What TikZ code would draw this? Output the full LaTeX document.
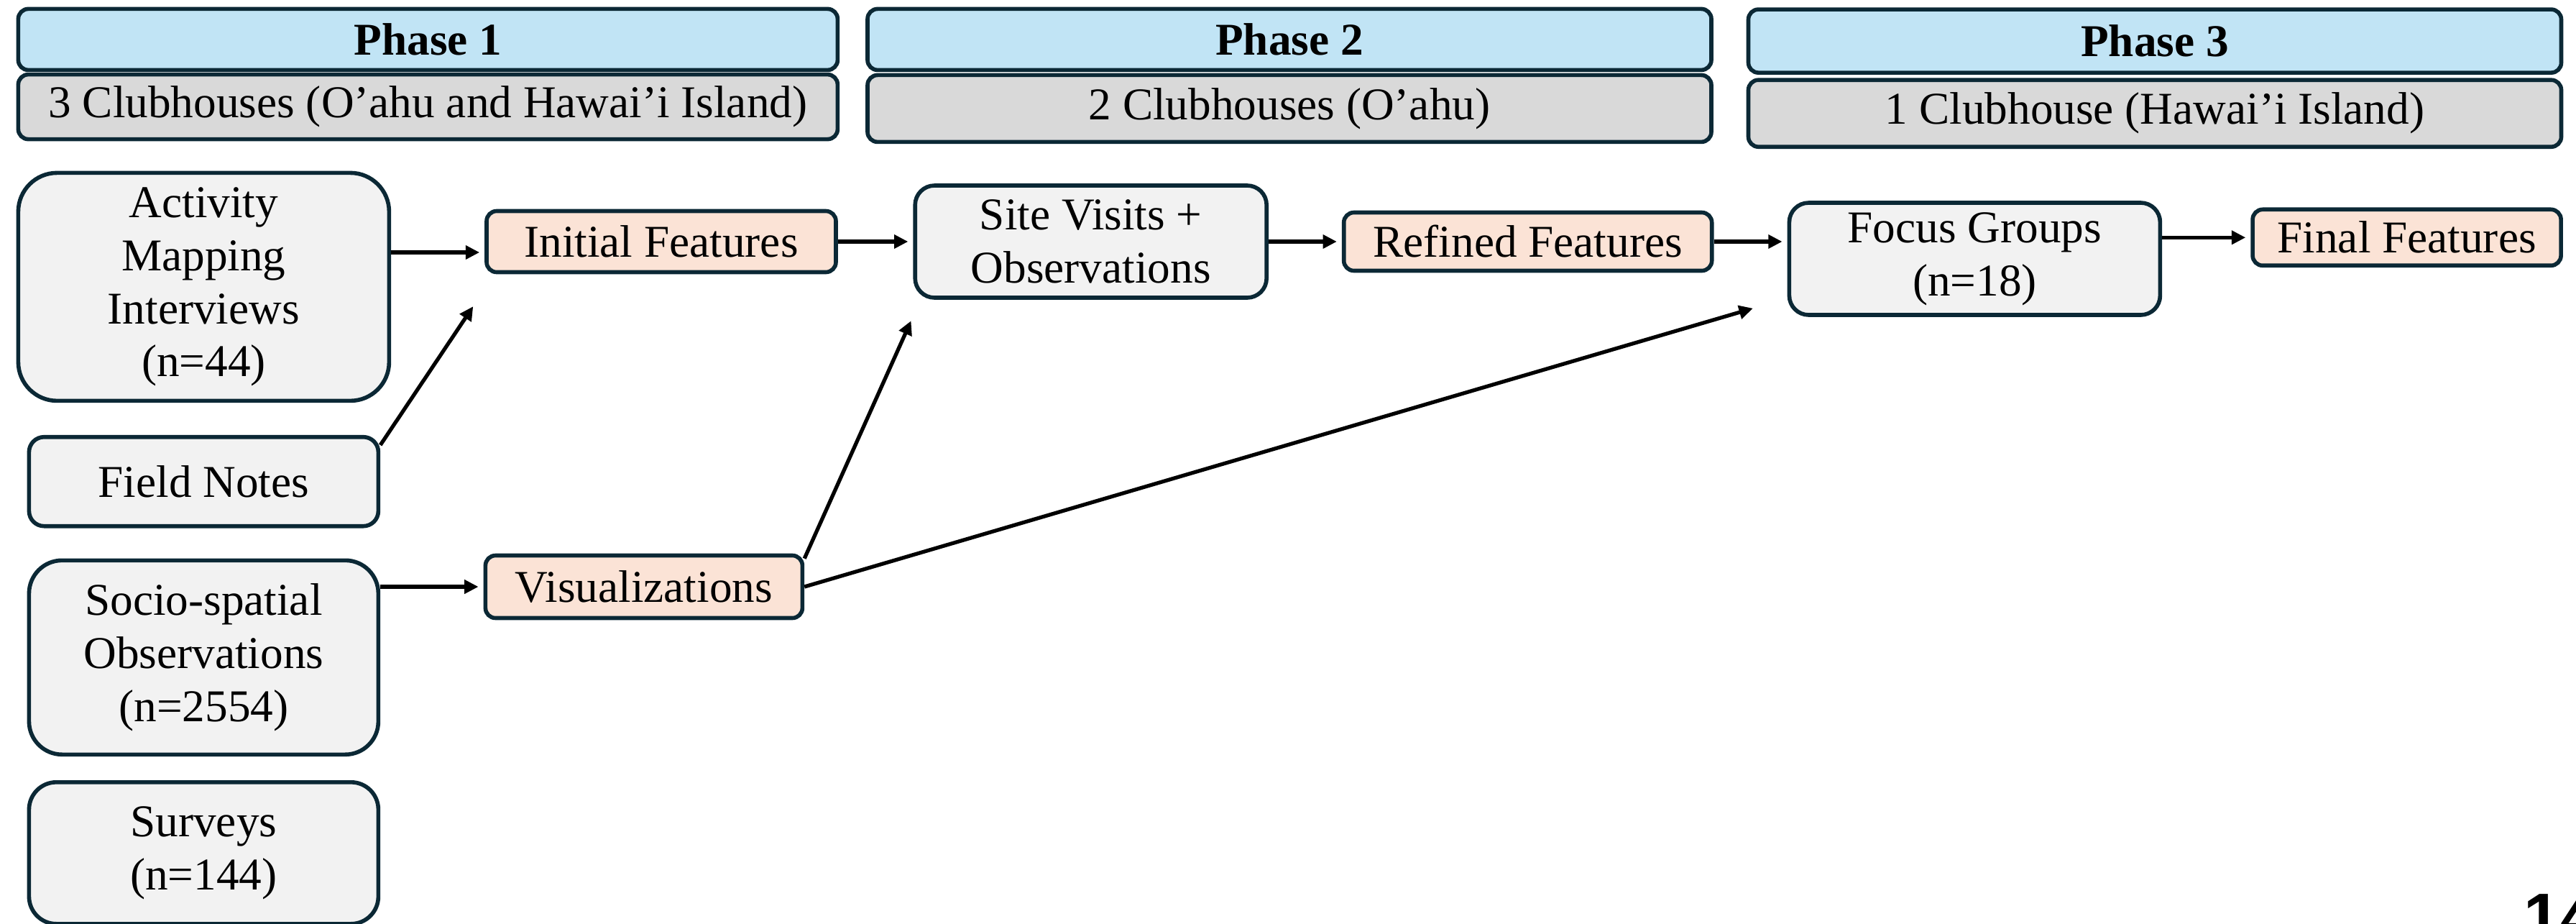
\documentclass[tikz,border=0pt]{standalone}
\usepackage{fontspec}
\setmainfont{Liberation Serif}
\newfontfamily\slidefont{Liberation Sans}
\usepackage{xcolor}
\usetikzlibrary{positioning,arrows.meta}

\definecolor{edgenavy}{HTML}{0B2835}
\definecolor{phaseblue}{HTML}{C1E4F5}
\definecolor{clubgray}{HTML}{D9D9D9}
\definecolor{srcgray}{HTML}{F2F2F2}
\definecolor{featpeach}{HTML}{FBE3D6}

\begin{document}
\begin{tikzpicture}[shorten >=2pt, node distance=3cm, on grid,
    box/.style={draw=edgenavy, line width=1.6pt, align=center, inner sep=0pt,
      font=\fontsize{18pt}{21pt}\selectfont},
    phase/.style={box, fill=phaseblue, rounded corners=1.4mm, minimum height=0.85cm,
      font=\fontsize{18pt}{21pt}\selectfont\bfseries},
    clubs/.style={box, fill=clubgray, rounded corners=1.4mm, minimum height=0.9cm},
    src/.style={box, fill=srcgray},
    feat/.style={box, fill=featpeach, rounded corners=1.4mm, minimum height=0.85cm},
    arr/.style={-{Triangle[length=5.5pt,width=5.3pt]}, line width=1.5pt}]

  \useasboundingbox (0,0) rectangle (35.84,-12.84);

  % phase headers
  \node[phase, minimum width=11.4cm] (ph1) at (5.954,-0.549) {Phase 1};
  \node[clubs, minimum width=11.4cm] (cl1) [below=0.937cm of ph1] {3 Clubhouses (O’ahu and Hawai’i Island)};
  \node[phase, minimum width=11.74cm] (ph2) at (17.94,-0.549) {Phase 2};
  \node[clubs, minimum width=11.74cm, minimum height=0.93cm] (cl2) [below=0.96cm of ph2] {2 Clubhouses (O’ahu)};
  \node[phase, minimum width=11.31cm, minimum height=0.88cm] (ph3) at (29.98,-0.571) {Phase 3};
  \node[clubs, minimum width=11.31cm, minimum height=0.93cm] (cl3) [below=1.006cm of ph3] {1 Clubhouse (Hawai’i Island)};

  % data sources
  \node[src, minimum width=5.16cm, minimum height=3.17cm, rounded corners=5.4mm] (ami) at (2.834,-3.989) {Activity\\Mapping\\Interviews\\(n=44)};
  \node[src, minimum width=4.86cm, minimum height=1.24cm, rounded corners=2.1mm] (fn) [below=2.708cm of ami] {Field Notes};
  \node[src, minimum width=4.86cm, minimum height=2.7cm, rounded corners=4.6mm] (soc) [below=2.446cm of fn] {Socio-spatial\\Observations\\(n=2554)};
  \node[src, minimum width=4.86cm, minimum height=1.97cm, rounded corners=3.8mm] (sur) [below=2.72cm of soc] {Surveys\\(n=144)};

  % features and later phases
  \node[feat, minimum width=4.86cm] (init) [above right=0.629cm and 6.366cm of ami] {Initial Features};
  \node[feat, minimum width=4.41cm, minimum height=0.87cm] (vis) [above right=0.983cm and 6.125cm of soc] {Visualizations};
  \node[src, minimum width=4.89cm, minimum height=1.56cm, rounded corners=2.7mm] (sv) [right=5.977cm of init] {Site Visits +\\Observations};
  \node[feat, minimum width=5.12cm, minimum height=0.81cm] (ref) [right=6.08cm of sv] {Refined Features};
  \node[src, minimum width=5.16cm, minimum height=1.56cm, rounded corners=2.7mm] (fg) [below right=0.24cm and 6.217cm of ref] {Focus Groups\\(n=18)};
  \node[feat, minimum width=4.29cm, minimum height=0.78cm] (fin) [above right=0.297cm and 6.012cm of fg] {Final Features};

  \node[anchor=north west, inner sep=0pt, font=\fontsize{26pt}{30pt}\slidefont\bfseries] (slidenum) at (35.11,-12.43) {14};

  \draw[arr] ([yshift=-1.5mm]ami.east |- init.west) -- ([yshift=-1.5mm]init.west);
  \draw[arr] ([yshift=-1.4mm]fn.north east) -- ([shift={(-0.12,-0.39)}]init.south west);
  \draw[arr] (soc.east |- vis.west) -- (vis.west);
  \draw[arr] (init.east) -- (init.east -| sv.west);
  \draw[arr] ([yshift=-0.7mm]vis.north east) -- ([yshift=-2.3mm]sv.south west);
  \draw[arr] (vis.east) -- ([shift={(-0.41,0.14)}]fg.south west);
  \draw[arr] (sv.east) -- (sv.east -| ref.west);
  \draw[arr] (ref.east) -- (ref.east -| fg.west);
  \draw[arr] (fg.east |- fin.west) -- (fin.west);

\end{tikzpicture}
\end{document}
